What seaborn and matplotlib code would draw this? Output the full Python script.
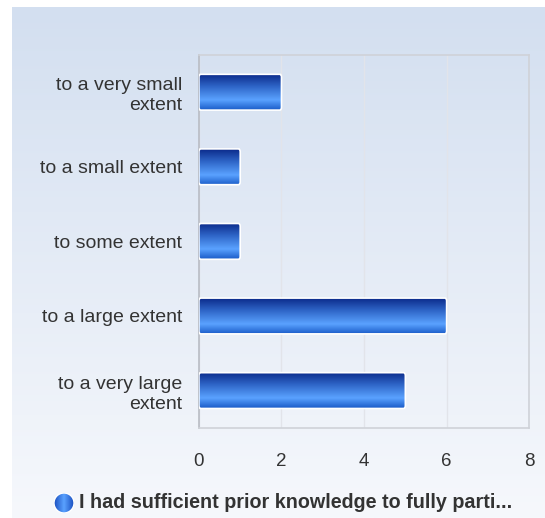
import numpy as np
import pandas as pd
import matplotlib.pyplot as plt
import seaborn as sns
from matplotlib.colors import LinearSegmentedColormap
from matplotlib.patches import FancyBboxPatch

# chart data
categories = ['to a very small\nextent', 'to a small extent', 'to some extent',
              'to a large extent', 'to a very large\nextent']
counts = [2, 1, 1, 6, 5]
x_ticks = [0, 2, 4, 6, 8]
legend_label = 'I had sufficient prior knowledge to fully parti...'

df = pd.DataFrame({'category': categories, 'count': counts})

sns.set_style('white')
plt.rcParams['font.family'] = ['Liberation Sans', 'DejaVu Sans']

fig = plt.figure(figsize=(5.45, 5.18), dpi=100)
fig.patch.set_facecolor('white')

# background panel with a vertical gradient
bg_ax = fig.add_axes([0, 0, 1, 1], zorder=-5)
bg_ax.set_xlim(0, 545)
bg_ax.set_ylim(518, 0)
bg_ax.axis('off')
bg_cmap = LinearSegmentedColormap.from_list('bg', ['#d3dff0', '#f6f8fc'])
grad = np.linspace(0, 1, 256).reshape(-1, 1)
bg_ax.imshow(grad, cmap=bg_cmap, aspect='auto', extent=(12, 545, 518, 7))

ax = fig.add_axes([0.365, 0.174, 0.606, 0.72])
ax.patch.set_alpha(0)
sns.barplot(data=df, x='count', y='category', orient='h', ax=ax,
            color='#2f6fd8', width=0.48, edgecolor='none')

ax.set_xlim(0, 8)
ax.set_ylim(4.5, -0.5)
ax.set_xticks(x_ticks)
ax.set_xlabel('')
ax.set_ylabel('')
ax.grid(axis='x', color='#e2e4ea', linewidth=1)
ax.set_axisbelow(True)
for side in ['top', 'right', 'bottom']:
    ax.spines[side].set_color('#cfd2d8')
    ax.spines[side].set_linewidth(1.2)
ax.spines['left'].set_color('#b8bcc4')
ax.spines['left'].set_linewidth(1.2)
ax.tick_params(axis='y', length=0, pad=12, labelsize=14, labelcolor='#333333')
ax.tick_params(axis='x', length=0, pad=18, labelsize=13.5, labelcolor='#333333')
for lab in ax.get_yticklabels():
    lab.set_horizontalalignment('right')
    lab.set_multialignment('right')
    lab.set_linespacing(1.25)

# replace flat bars with gradient fill
bar_cmap = LinearSegmentedColormap.from_list(
    'bar', [(0, '#0b2a8a'), (0.35, '#2f66c8'), (0.72, '#5aa2ff'), (1, '#1a5cc8')])
bar_grad = np.linspace(0, 1, 256).reshape(-1, 1)
for p in list(ax.patches):
    x0, y0 = p.get_x(), p.get_y()
    w, h = p.get_width(), p.get_height()
    p.set_visible(False)
    clip = FancyBboxPatch((x0, y0), w, h, boxstyle='round,pad=0,rounding_size=0.04',
                          mutation_aspect=1.0, transform=ax.transData,
                          facecolor='none', edgecolor='white', linewidth=1.2, zorder=4)
    ax.add_patch(clip)
    im = ax.imshow(bar_grad, cmap=bar_cmap, aspect='auto',
                   extent=(x0, x0 + w, y0 + h, y0), zorder=3)
    im.set_clip_path(clip)
ax.set_xlim(0, 8)
ax.set_ylim(4.5, -0.5)

# legend
circ_cmap = LinearSegmentedColormap.from_list('c', ['#1a4fc0', '#5aa2ff', '#1a4fc0'])
lg_ax = fig.add_axes([54 / 545, 1 - 513 / 518, 20 / 545, 20 / 518])
lg_ax.axis('off')
lg_ax.set_xlim(0, 1)
lg_ax.set_ylim(0, 1)
circle = plt.Circle((0.5, 0.5), 0.5, transform=lg_ax.transData, facecolor='none')
lg_ax.add_patch(circle)
cim = lg_ax.imshow(np.linspace(0, 1, 64).reshape(1, -1), cmap=circ_cmap,
                   aspect='auto', extent=(0, 1, 0, 1))
cim.set_clip_path(circle)
fig.text(79 / 545, 1 - 503 / 518, legend_label, fontsize=14.2, fontweight='bold',
         color='#333333', va='center', ha='left')

fig.savefig('out.png', dpi=100)
